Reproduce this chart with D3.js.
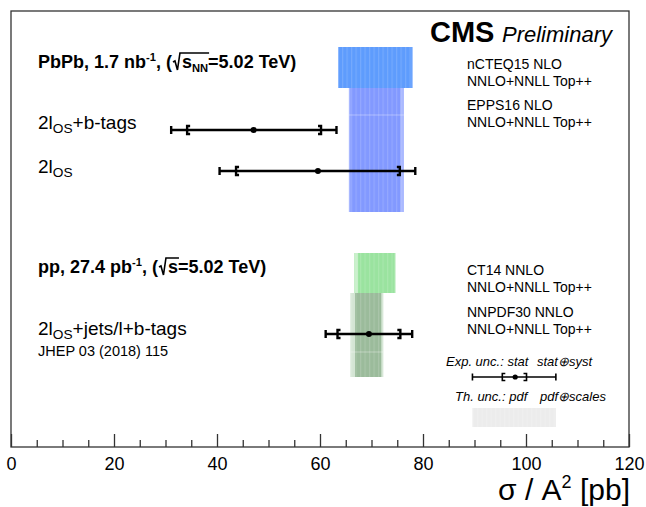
<!DOCTYPE html>
<html><head><meta charset="utf-8">
<script src="https://cdn.jsdelivr.net/npm/d3@7"></script>
<style>body{margin:0;background:#fff} svg{display:block} text{font-family:"Liberation Sans",Arial,Helvetica,sans-serif}</style>
</head><body><svg id="c" width="646" height="507"></svg>
<script>
// ---------------- data ----------------
const measBase = ["2l", "2l", "2l"];
const measSub = ["OS", "OS", "OS"];
const measRest = ["+b-tags", "", "+jets/l+b-tags"];
const measCentral = [47.1, 59.6, 69.5];
const measStatLo = [34.2, 43.7, 63.4];
const measStatHi = [60.2, 75.5, 75.6];
const measTotLo = [31.1, 40.5, 61.1];
const measTotHi = [63.2, 78.5, 77.9];

const theoryPdf = ["nCTEQ15 NLO", "EPPS16 NLO", "CT14 NNLO", "NNPDF30 NNLO"];
const theoryCalc = ["NNLO+NNLL Top++", "NNLO+NNLL Top++", "NNLO+NNLL Top++", "NNLO+NNLL Top++"];
const thOuterLo = [63.5, 65.6, 66.6, 65.9];
const thOuterHi = [78.0, 76.3, 74.7, 72.3];
const thInnerLo = [63.7, 65.9, 67.4, 66.8];
const thInnerHi = [77.8, 75.6, 74.5, 71.9];

const legCentral = [97.9];
const legStat = [95.4, 100.1];
const legTot = [89.6, 105.8];

const majorTicks = [0, 20, 40, 60, 80, 100, 120];
const minorTicks = d3.range(0, 121, 5).filter(v => v % 20 !== 0);

// ---------------- layout ----------------
const frame = {l: 11, t: 11, r: 629, b: 447};
const x = d3.scaleLinear().domain([0, 120]).range([frame.l, frame.r]);

const thBandY = [[47, 88], [88, 212], [253, 293], [293, 377]];
const thLabelY = [69, 110, 275, 317];
const measY = [130, 171, 334];
const measLabelY = [129, 173, 335];
const legBarY = 377, legBandY = [408, 427];

const thInnerCol = ["#5e9cfd", "#8299ff", "#9ae39f", "#9bbb9b"];
const thOuterCol = ["#80b1ff", "#a9b8ff", "#c6efc8", "#d4e5d4"];

const svg = d3.select("#c");
const defs = svg.append("defs");
const pat = defs.append("pattern").attr("id", "stripes").attr("patternUnits", "userSpaceOnUse")
  .attr("width", 4.5).attr("height", 10);
pat.append("rect").attr("x", 0).attr("y", 0).attr("width", 1.2).attr("height", 10).attr("fill", "#fff").attr("opacity", 0.14);

function rich(g, x0, y0, parts, base, attrs) {
  let cx = x0; const st = [], en = [];
  parts.forEach(p => {
    st.push(cx);
    if (p.rad) { cx += p.w; en.push(cx); return; }
    const t = g.append("text").attr("x", cx).attr("y", y0 + (p.dy || 0))
      .attr("font-size", base * (p.s || 1)).text(p.t);
    for (const k in attrs) t.attr(k, attrs[k]);
    cx += t.node().getComputedTextLength();
    en.push(cx);
  });
  return {st, en};
}

// ---------------- theory bands ----------------
const gb = svg.append("g");
theoryPdf.forEach((name, i) => {
  const [y0, y1] = thBandY[i];
  gb.append("rect").attr("x", x(thOuterLo[i])).attr("y", y0)
    .attr("width", x(thOuterHi[i]) - x(thOuterLo[i])).attr("height", y1 - y0).attr("fill", thOuterCol[i]);
  gb.append("rect").attr("x", x(thInnerLo[i])).attr("y", y0)
    .attr("width", x(thInnerHi[i]) - x(thInnerLo[i])).attr("height", y1 - y0).attr("fill", thInnerCol[i]);
  gb.append("rect").attr("x", x(thOuterLo[i])).attr("y", y0)
    .attr("width", x(thOuterHi[i]) - x(thOuterLo[i])).attr("height", y1 - y0).attr("fill", "url(#stripes)");
  svg.append("text").attr("x", 467).attr("y", thLabelY[i]).attr("font-size", 14).text(name);
  svg.append("text").attr("x", 467).attr("y", thLabelY[i] + 17).attr("font-size", 14).text(theoryCalc[i]);
});
// faint internal seams
[[1, 115], [3, 352]].forEach(([i, yy]) => {
  gb.append("line").attr("x1", x(thOuterLo[i])).attr("x2", x(thOuterHi[i])).attr("y1", yy).attr("y2", yy)
    .attr("stroke", "#fff").attr("stroke-width", 1).attr("opacity", 0.35);
});

// legend band
gb.append("rect").attr("x", x(legTot[0])).attr("y", legBandY[0]).attr("width", x(legTot[1]) - x(legTot[0]))
  .attr("height", legBandY[1] - legBandY[0]).attr("fill", "#ececec");
gb.append("rect").attr("x", x(legTot[0])).attr("y", legBandY[0]).attr("width", x(legTot[1]) - x(legTot[0]))
  .attr("height", legBandY[1] - legBandY[0]).attr("fill", "url(#stripes)");

// ---------------- error bars ----------------
function errBar(g, c, sLo, sHi, tLo, tHi, yy, lw, cap, r) {
  g.append("line").attr("x1", x(tLo)).attr("x2", x(tHi)).attr("y1", yy).attr("y2", yy)
    .attr("stroke", "#000").attr("stroke-width", lw);
  [tLo, tHi].forEach(v => g.append("line").attr("x1", x(v)).attr("x2", x(v))
    .attr("y1", yy - cap).attr("y2", yy + cap).attr("stroke", "#000").attr("stroke-width", lw));
  g.append("path").attr("d", `M${x(sLo) + 3},${yy - cap} H${x(sLo)} V${yy + cap} H${x(sLo) + 3}`)
    .attr("fill", "none").attr("stroke", "#000").attr("stroke-width", lw);
  g.append("path").attr("d", `M${x(sHi) - 3},${yy - cap} H${x(sHi)} V${yy + cap} H${x(sHi) - 3}`)
    .attr("fill", "none").attr("stroke", "#000").attr("stroke-width", lw);
  g.append("circle").attr("cx", x(c)).attr("cy", yy).attr("r", r).attr("fill", "#000");
}
const ge = svg.append("g");
measCentral.forEach((c, i) => errBar(ge, c, measStatLo[i], measStatHi[i], measTotLo[i], measTotHi[i], measY[i], 2.4, 4, 3));
errBar(ge, legCentral[0], legStat[0], legStat[1], legTot[0], legTot[1], legBarY, 1.6, 3.5, 2.6);

// ---------------- labels ----------------
measLabelY.forEach((yy, i) => {
  rich(svg, 38, yy, [{t: measBase[i]}, {t: measSub[i], s: 0.72, dy: 3.5}, {t: measRest[i]}], 19, {});
});
svg.append("text").attr("x", 38).attr("y", 356).attr("font-size", 14.5).text("JHEP 03 (2018) 115");

// PbPb header
{
  const yy = 68;
  const r = rich(svg, 38, yy, [{t: "PbPb, 1.7 nb"}, {t: "-1", s: 0.62, dy: -7}, {t: ", ("}, {rad: true, w: 10},
    {t: "s"}, {t: "NN", s: 0.62, dy: 4}, {t: "=5.02 TeV)"}], 18, {"font-weight": "bold"});
  const x0 = r.st[3], xe = r.en[5];
  svg.append("path").attr("d", `M${x0 + 1},${yy - 6} L${x0 + 3},${yy - 7} L${x0 + 5.5},${yy + 2} L${x0 + 8},${yy - 15} H${xe + 1}`)
    .attr("fill", "none").attr("stroke", "#000").attr("stroke-width", 1.6);
}
// pp header
{
  const yy = 273;
  const r = rich(svg, 38, yy, [{t: "pp, 27.4 pb"}, {t: "-1", s: 0.62, dy: -7}, {t: ", ("}, {rad: true, w: 10},
    {t: "s"}, {t: "=5.02 TeV)"}], 18, {"font-weight": "bold"});
  const x0 = r.st[3], xe = r.en[4];
  svg.append("path").attr("d", `M${x0 + 1},${yy - 6} L${x0 + 3},${yy - 7} L${x0 + 5.5},${yy + 2} L${x0 + 8},${yy - 15} H${xe + 1}`)
    .attr("fill", "none").attr("stroke", "#000").attr("stroke-width", 1.6);
}

// CMS Preliminary
svg.append("text").attr("x", 430).attr("y", 42).attr("font-size", 29).attr("font-weight", "bold").text("CMS");
svg.append("text").attr("x", 502).attr("y", 42).attr("font-size", 22).attr("font-style", "italic").text("Preliminary");

// legend texts
svg.append("text").attr("x", 446).attr("y", 366).attr("font-size", 13).attr("font-style", "italic").text("Exp. unc.: stat");
svg.append("text").attr("x", 537).attr("y", 366).attr("font-size", 13).attr("font-style", "italic").text("stat\u2295syst");
svg.append("text").attr("x", 455).attr("y", 401).attr("font-size", 13).attr("font-style", "italic").text("Th. unc.: pdf");
svg.append("text").attr("x", 540).attr("y", 401).attr("font-size", 13).attr("font-style", "italic").text("pdf\u2295scales");

// ---------------- frame & axis ----------------
svg.append("rect").attr("x", frame.l).attr("y", frame.t).attr("width", frame.r - frame.l).attr("height", frame.b - frame.t)
  .attr("fill", "none").attr("stroke", "#333").attr("stroke-width", 1.3);

const axMaj = svg.append("g").attr("transform", `translate(0,${frame.b})`)
  .call(d3.axisBottom(x).tickValues(majorTicks).tickSize(-13).tickPadding(10).tickFormat(d3.format("d")));
axMaj.select(".domain").remove();
axMaj.selectAll("text").attr("font-size", 18).attr("font-family", "Liberation Sans, Arial, sans-serif").attr("fill", "#000");
axMaj.selectAll("line").attr("stroke", "#333").attr("stroke-width", 1.3);
const axMin = svg.append("g").attr("transform", `translate(0,${frame.b})`)
  .call(d3.axisBottom(x).tickValues(minorTicks).tickSize(-7).tickFormat(""));
axMin.select(".domain").remove();
axMin.selectAll("line").attr("stroke", "#333").attr("stroke-width", 1.3);

// axis title
{
  const t = svg.append("text").attr("y", 500).attr("font-size", 30).attr("fill", "#000");
  t.append("tspan").text("\u03c3 / A");
  t.append("tspan").attr("font-size", 18).attr("dy", -12).text("2");
  t.append("tspan").attr("dy", 12).text(" [pb]");
  const w = t.node().getComputedTextLength();
  t.attr("x", frame.r + 1 - w);
}
</script></body></html>
